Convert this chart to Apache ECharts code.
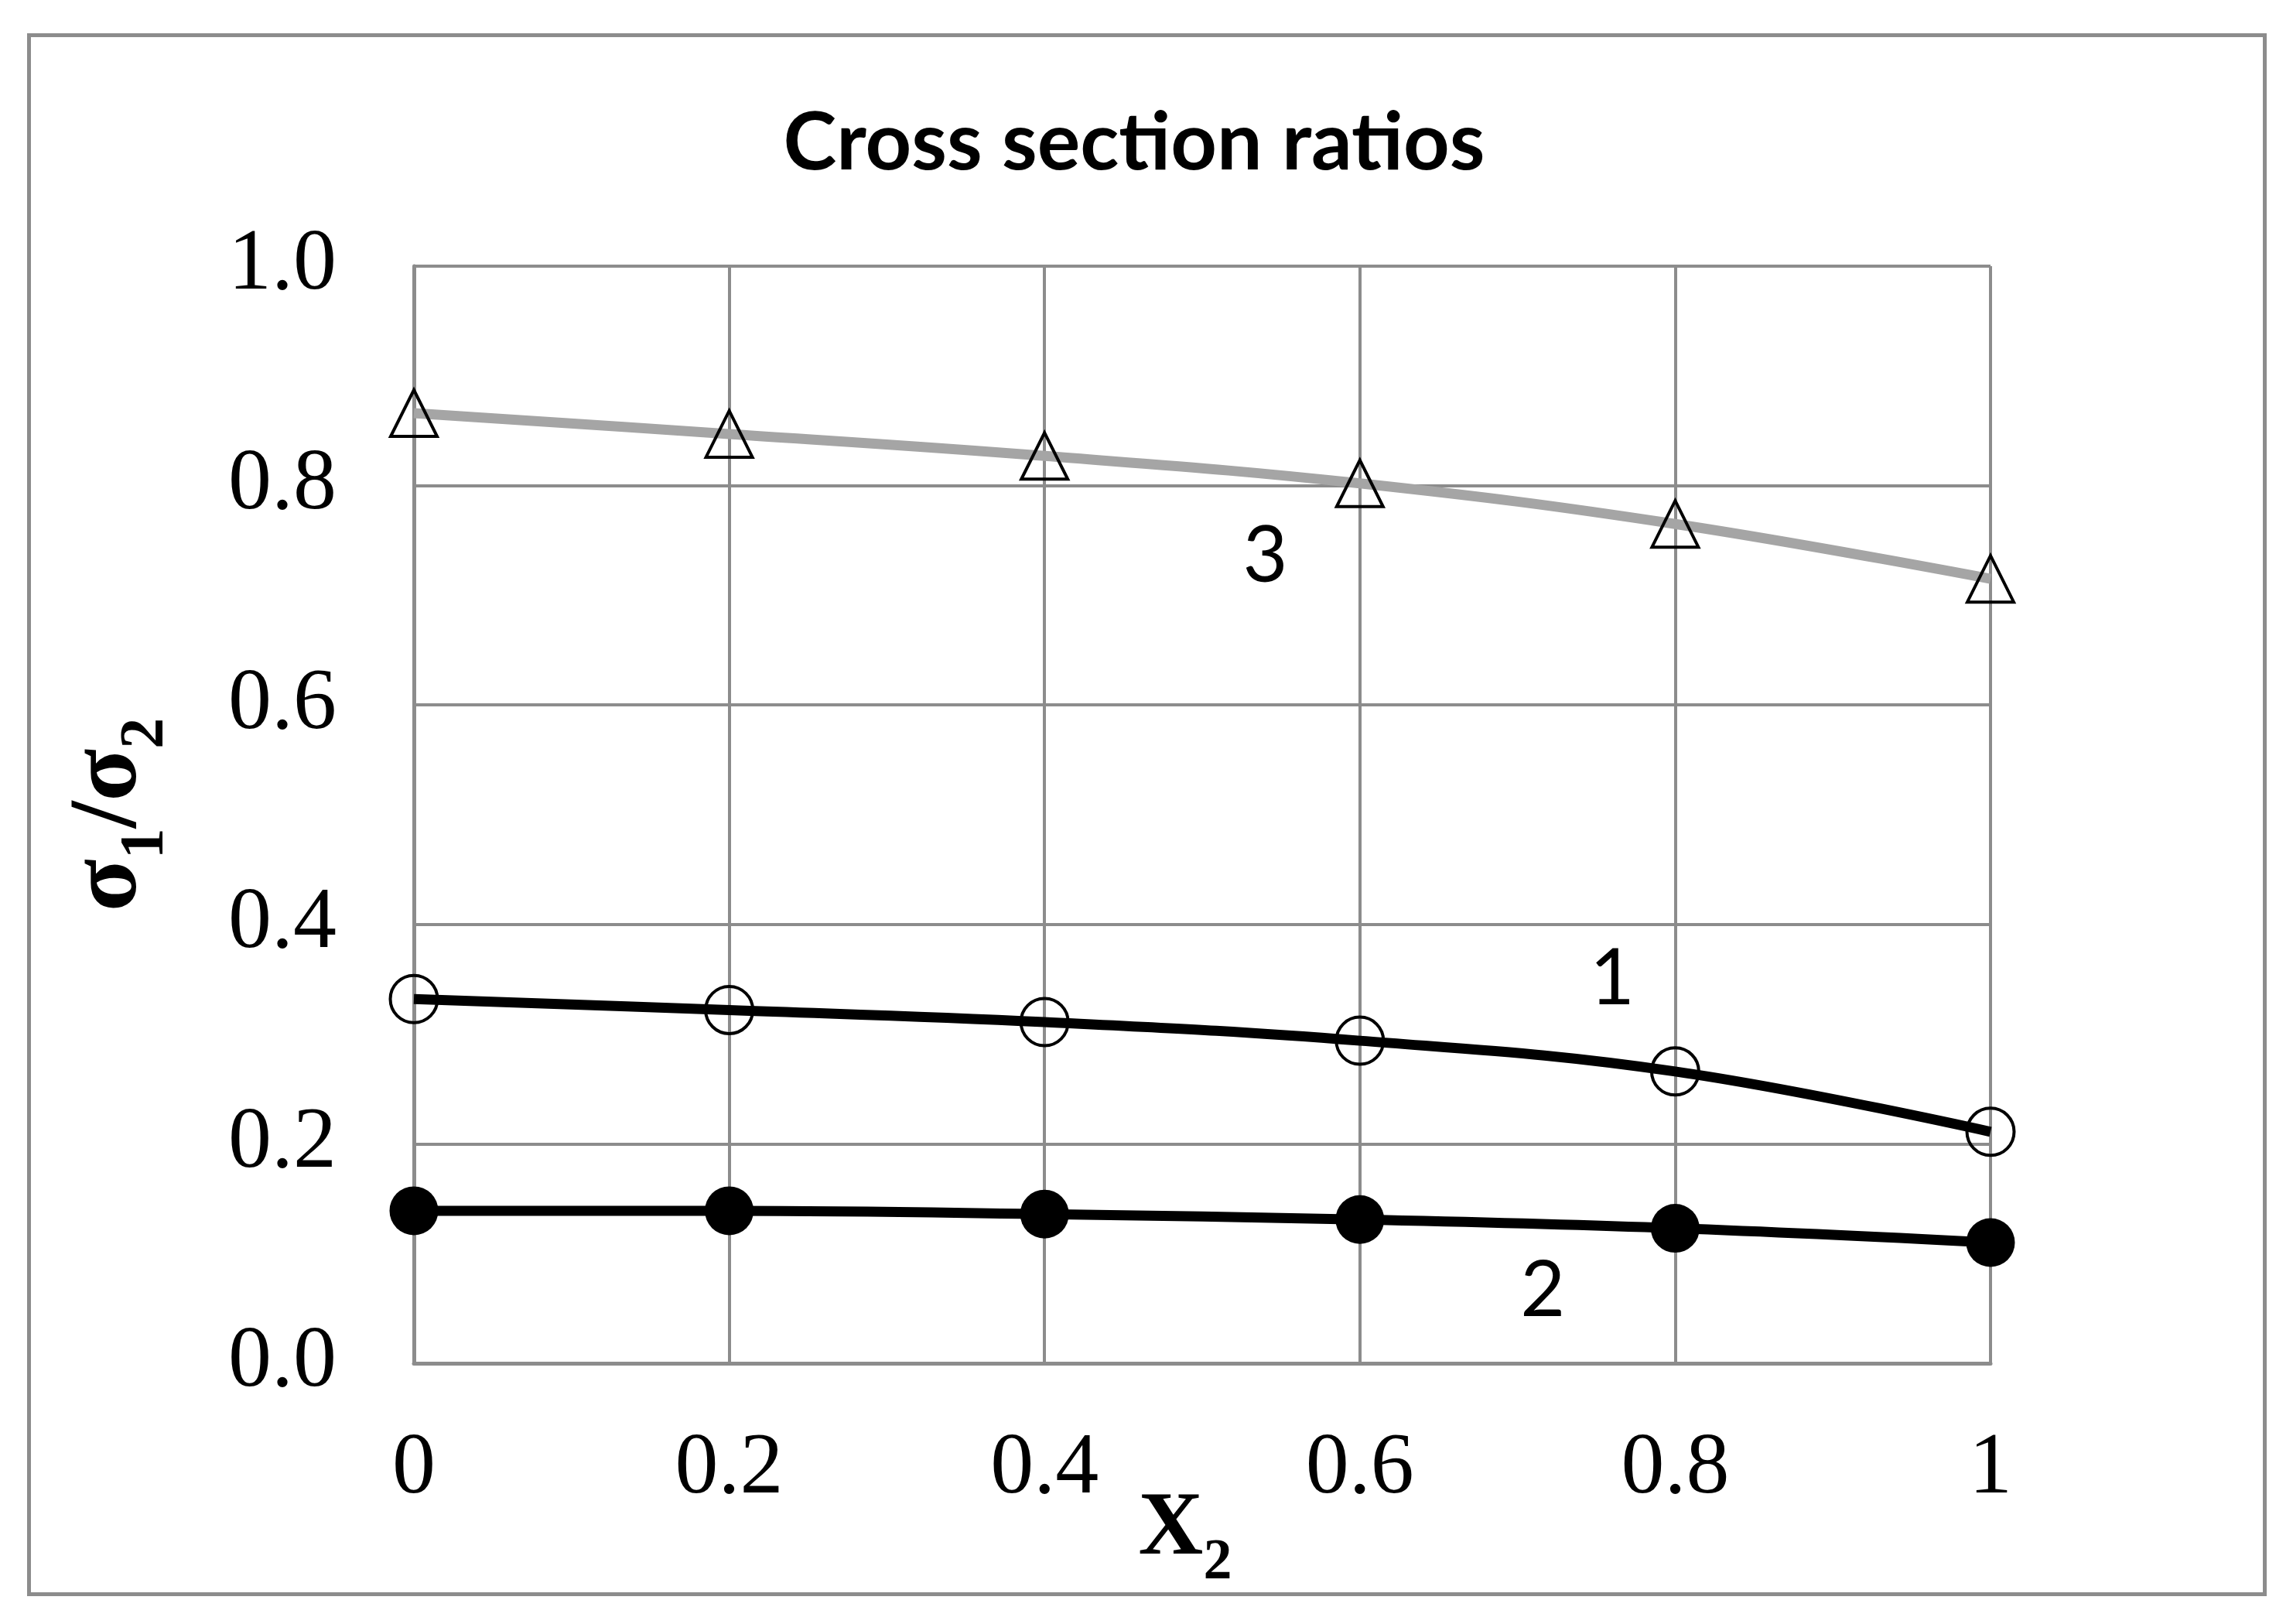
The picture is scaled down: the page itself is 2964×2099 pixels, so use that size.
<!DOCTYPE html>
<html>
<head>
<meta charset="utf-8">
<script src="https://cdn.jsdelivr.net/npm/echarts@6/dist/echarts.min.js"></script>
<style>
html,body{margin:0;padding:0;background:#ffffff;}
#chart{width:2964px;height:2099px;}
</style>
</head>
<body>
<div id="chart"></div>
<script>
// ---- data ----
const xValues = [0, 0.2, 0.4, 0.6, 0.8, 1];
const curve1 = [0.332, 0.322, 0.311, 0.294, 0.266, 0.211]; // open circles
const curve2 = [0.139, 0.139, 0.136, 0.131, 0.123, 0.110]; // filled circles
const curve3 = [0.866, 0.847, 0.827, 0.802, 0.765, 0.715]; // triangles
const curveNames = ['1', '2', '3'];
const curveLabelX = [0.760, 0.716, 0.540];
const curveLabelY = [0.350, 0.066, 0.735];
const yTickLabels = ['0.0', '0.2', '0.4', '0.6', '0.8', '1.0'];
const xTickLabels = ['0', '0.2', '0.4', '0.6', '0.8', '1'];
const titleText = 'Cross section ratios';

const pairs = (ys) => xValues.map((x, i) => [x, ys[i]]);
const GRID = '#8c8c8c';
const serif = '"Liberation Serif", "Times New Roman", serif';
const sans = 'Lato, "Open Sans", sans-serif';

function curveLabel(i) {
  return {
    symbol: 'circle',
    symbolSize: 1,
    itemStyle: { color: 'rgba(0,0,0,0)' },
    label: {
      show: true, position: 'inside', formatter: '{b}',
      fontFamily: sans, fontSize: 100, color: '#000'
    },
    data: [{ name: curveNames[i], coord: [curveLabelX[i], curveLabelY[i]], value: curveNames[i] }]
  };
}

const chart = echarts.init(document.getElementById('chart'), null, { renderer: 'canvas' });
chart.setOption({
  animation: false,
  backgroundColor: '#ffffff',
  title: {
    text: titleText,
    left: 1461, top: 128,
    textAlign: 'center',
    textStyle: { fontFamily: sans, fontWeight: 'bold', fontSize: 104, color: '#000' }
  },
  graphic: [{
    type: 'rect', left: 35, top: 43, z: -1,
    shape: { width: 2890, height: 2015 },
    style: { fill: 'none', stroke: GRID, lineWidth: 5 }
  }],
  grid: { left: 535, right: 391, top: 344, bottom: 337, containLabel: false },
  xAxis: {
    type: 'value', min: 0, max: 1, interval: 0.2,
    name: '{x|X}{s|2}',
    nameLocation: 'middle', nameGap: 158, nameMoveOverlap: false,
    nameTextStyle: {
      padding: [0, 44, 0, 0],
      rich: {
        x: { fontFamily: serif, fontWeight: 'bold', fontSize: 116, lineHeight: 116, color: '#000' },
        s: { fontFamily: serif, fontWeight: 'bold', fontSize: 74, height: 30, lineHeight: 30, verticalAlign: 'bottom', color: '#000' }
      }
    },
    axisLine: { show: true, lineStyle: { color: GRID, width: 5 } },
    axisTick: { show: false },
    axisLabel: {
      margin: 82, fontFamily: serif, fontSize: 112, color: '#000',
      formatter: (v) => xTickLabels[Math.round(v / 0.2)]
    },
    splitLine: { show: true, lineStyle: { color: GRID, width: 4 } }
  },
  yAxis: {
    type: 'value', min: 0, max: 1, interval: 0.2,
    name: '{g|σ}{s|1}{g|/σ}{s|2}',
    nameLocation: 'middle', nameRotate: 90, nameGap: 330, nameMoveOverlap: false,
    nameTextStyle: {
      rich: {
        g: { fontFamily: serif, fontWeight: 'bold', fontSize: 125, lineHeight: 125, color: '#000' },
        s: { fontFamily: serif, fontWeight: 'bold', fontSize: 80, height: 32, lineHeight: 32, verticalAlign: 'bottom', color: '#000' }
      }
    },
    axisLine: { show: true, lineStyle: { color: GRID, width: 5 } },
    axisTick: { show: false },
    axisLabel: {
      margin: 100, fontFamily: serif, fontSize: 112, color: '#000',
      formatter: (v) => yTickLabels[Math.round(v / 0.2)]
    },
    splitLine: { show: true, lineStyle: { color: GRID, width: 4 } }
  },
  series: [
    {
      name: '3', type: 'line', data: pairs(curve3), smooth: 0.4, clip: false,
      symbol: 'triangle', symbolSize: 60,
      lineStyle: { color: '#a5a5a5', width: 13 },
      itemStyle: { color: 'rgba(0,0,0,0)', borderColor: '#000', borderWidth: 4 },
      markPoint: curveLabel(2), z: 3
    },
    {
      name: '1', type: 'line', data: pairs(curve1), smooth: 0.4, clip: false,
      symbol: 'circle', symbolSize: 61,
      lineStyle: { color: '#000', width: 13 },
      itemStyle: { color: 'rgba(0,0,0,0)', borderColor: '#000', borderWidth: 4 },
      markPoint: curveLabel(0), z: 3
    },
    {
      name: '2', type: 'line', data: pairs(curve2), smooth: 0.4, clip: false,
      symbol: 'circle', symbolSize: 63,
      lineStyle: { color: '#000', width: 13 },
      itemStyle: { color: '#000', borderColor: '#000', borderWidth: 0 },
      markPoint: curveLabel(1), z: 3
    }
  ]
});
</script>
</body>
</html>
